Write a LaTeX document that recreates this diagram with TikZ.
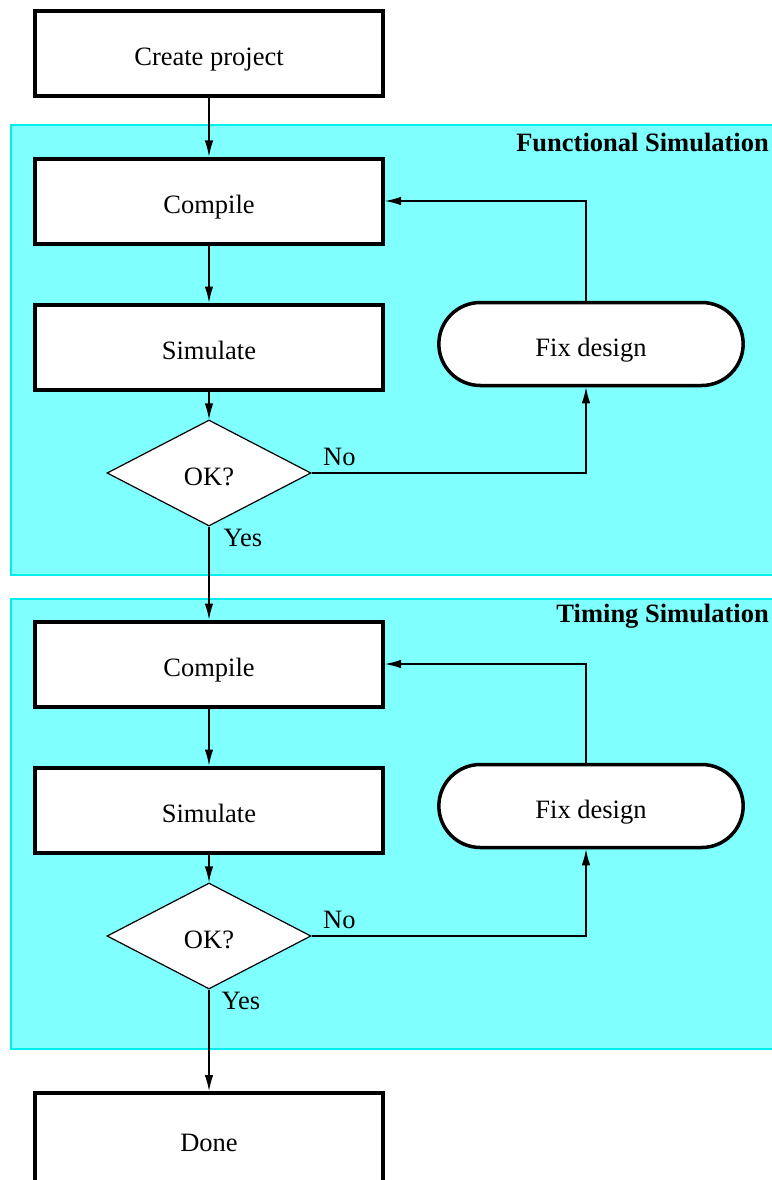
\documentclass[tikz,border=0pt]{standalone}
\usepackage{fontspec}
\setmainfont{Liberation Serif}
\usetikzlibrary{positioning, shapes.geometric, shapes.misc, arrows.meta}
\definecolor{stagefill}{RGB}{128,255,255}
\definecolor{stageline}{RGB}{0,238,238}
\tikzset{
>={Latex[length=16pt,width=8.5pt]}, % filled arrow heads
x=1pt, y=-1pt, % one unit per pixel, y runs downwards
every node/.style={font=\fontsize{26.5}{32}\selectfont}, % text size of every node
step text/.style={text height=29pt, text depth=5pt}, % keeps the baseline a bit below the middle
proc/.style={draw, line width=4pt, fill=white, minimum width=348pt, minimum height=85pt, step text}, % heavy boxes
decision/.style={diamond, draw, line width=1.2pt, fill=white, minimum width=204pt, minimum height=106pt, inner sep=0pt, step text}, % the OK? test
fixbox/.style={rounded rectangle, draw, line width=3.5pt, fill=white, minimum width=311pt, minimum height=83pt, step text}, % the fix step
region/.style={draw=stageline, line width=1.2pt, fill=stagefill}, % shaded simulation stage
title/.style={font=\fontsize{26.5}{32}\selectfont\bfseries, anchor=east, inner sep=0pt}, % stage heading
flow/.style={->, line width=1.2pt}, % connectors
tag/.style={inner sep=2pt}, % Yes / No labels
}

\begin{document}
\begin{tikzpicture}
        \useasboundingbox (0,0) rectangle (771,1180);

        % the two simulation stages
        \draw[region] (11,125) rectangle (790,575);
        \draw[region] (11,599) rectangle (790,1049);
        \node[title] (ftitle) at (769,142) {Functional Simulation};
        \node[title] (ttitle) at (769,616) {Timing Simulation};

        \node[proc] (start) at (209,54) {Create project};
        \node[proc, below of=start, node distance=147pt] (comp1) {Compile};
        \node[proc, below of=comp1, node distance=146pt] (sim1) {Simulate};
        \node[decision, below of=sim1, node distance=126pt] (ok1) {OK?};
        \node[fixbox, right of=sim1, node distance=382pt, yshift=3pt] (fix1) {Fix design};

        \node[proc, below of=ok1, node distance=191pt] (comp2) {Compile};
        \node[proc, below of=comp2, node distance=146pt] (sim2) {Simulate};
        \node[decision, below of=sim2, node distance=126pt] (ok2) {OK?};
        \node[fixbox, right of=sim2, node distance=382pt, yshift=4pt] (fix2) {Fix design};

        % runs off the foot of the page
        \node[proc, minimum height=92pt, below of=ok2, node distance=203pt] (done) {Done};

        \draw[flow] (start) -- (comp1);
        \draw[flow] (comp1) -- (sim1);
        \draw[flow] (sim1) -- (ok1);
        \draw[flow] (ok1) -- node[tag, pos=0, anchor=north west, xshift=12pt]{Yes} (comp2);
        \draw[flow] (ok1.east) -| node[tag, pos=0, anchor=south west, xshift=9pt, yshift=5pt]{No} ([xshift=-5pt]fix1.south);
        \draw[flow] ([xshift=-5pt]fix1.north) |- (comp1.east);

        \draw[flow] (comp2) -- (sim2);
        \draw[flow] (sim2) -- (ok2);
        \draw[flow] (ok2) -- node[tag, pos=0, anchor=north west, xshift=10pt]{Yes} (done);
        \draw[flow] (ok2.east) -| node[tag, pos=0, anchor=south west, xshift=9pt, yshift=5pt]{No} ([xshift=-5pt]fix2.south);
        \draw[flow] ([xshift=-5pt]fix2.north) |- (comp2.east);
    \end{tikzpicture}
\end{document}
